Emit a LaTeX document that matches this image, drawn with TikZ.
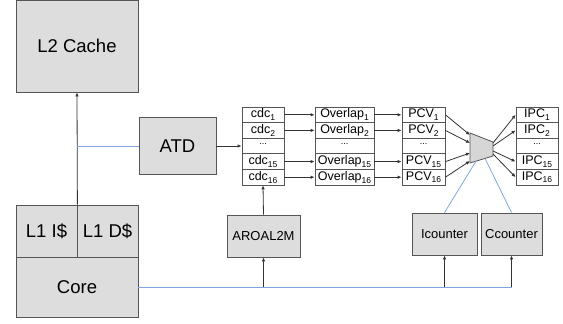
\documentclass[tikz,border=0pt]{standalone}
\usepackage{fontspec}
\setmainfont{Liberation Sans}
\usetikzlibrary{positioning, arrows.meta, calc}

\definecolor{boxgray}{HTML}{DDDDDD}
\definecolor{muxgray}{HTML}{D6D6D6}
\definecolor{edgegray}{HTML}{555555}
\definecolor{linkblue}{HTML}{80A8DE}
\newcommand{\lowidx}[1]{\raisebox{-0.22em}{\fontsize{8.5}{9}\selectfont #1}}

\begin{document}
\begin{tikzpicture}[x=1pt, y=-1pt]
	\tikzset{
		block/.style={draw=edgegray, fill=boxgray, inner sep=0pt, line width=0.8pt, font=\fontsize{18.5}{20}\selectfont},
		smallblock/.style={block, font=\fontsize{13}{15}\selectfont},
		cell/.style={draw=edgegray, fill=white, inner sep=0pt, line width=0.8pt, minimum height=15.6pt, font=\fontsize{12.5}{14}\selectfont},
		arr/.style={draw=black!80, line width=0.8pt, -{Latex[length=4pt,width=3.5pt]}},
		bus/.style={draw=linkblue, line width=0.8pt}
	}
	\useasboundingbox (0,0) rectangle (563,324);
	
	% processor side
	\node[block, minimum width=122pt, minimum height=92pt] (L2) at (77,46) {L2 Cache};
	\node[block, minimum width=61pt, minimum height=52pt] (L1I) at (46.5,231) {L1 I\$};
	\node[block, minimum width=61pt, minimum height=52pt] (L1D) at (107.5,231) {L1 D\$};
	\node[block, minimum width=122pt, minimum height=60pt] (Core) at (77,287) {Core};
	\node[block, minimum width=77pt, minimum height=57pt] (ATD) at (177.5,146) {ATD};
	
	% counters
	\node[smallblock, minimum width=73pt, minimum height=42pt] (AROAL2M) at (263.5,236) {AROAL2M};
	\node[smallblock, minimum width=65pt, minimum height=42pt] (Icounter) at (444.5,234) {Icounter};
	\node[smallblock, minimum width=61pt, minimum height=42pt] (Ccounter) at (511.5,234) {Ccounter};
	
	% tables
	\foreach \r/\s in {1/1,2/2,4/15,5/16} {
		\node[cell, minimum width=42pt] (cdc\r) at (263,99.2+15.6*\r) {cdc\lowidx{\s}};
		\node[cell, minimum width=59pt] (ovl\r) at (344.5,99.2+15.6*\r) {Overlap\lowidx{\s}};
		\node[cell, minimum width=43pt] (pcv\r) at (423.5,99.2+15.6*\r) {PCV\lowidx{\s}};
		\node[cell, minimum width=42pt] (ipc\r) at (537,99.2+15.6*\r) {IPC\lowidx{\s}};
		\draw[arr] (cdc\r) -- (ovl\r);
		\draw[arr] (ovl\r) -- (pcv\r);
	}
	\foreach \col/\x/\w in {cdc/263/42, ovl/344.5/59, pcv/423.5/43, ipc/537/42}
		\node[cell, minimum width=\w pt] (\col3) at (\x,146) {\raisebox{0.3em}{\fontsize{9}{9}\selectfont ...}};
	
	% selector
	\draw[draw=edgegray, fill=muxgray, line width=0.8pt] (470,133) -- (493,142) -- (493,156) -- (470,163) -- cycle;
	\coordinate (mi1) at (470,135);
	\coordinate (mi2) at (470,143);
	\coordinate (mi4) at (470,153);
	\coordinate (mi5) at (470,161);
	\coordinate (mo1) at (493,143);
	\coordinate (mo2) at (493,146);
	\coordinate (mo4) at (493,151);
	\coordinate (mo5) at (493,154);
	\coordinate (mb1) at (476,161.2);
	\coordinate (mb2) at (485,158.4);
	\foreach \r in {1,2,4,5} {
		\draw[arr] (pcv\r.east) -- (mi\r);
		\draw[arr] (mo\r) -- (ipc\r.west);
	}
	
	% links
	\draw[arr] (L1I.north east) -- (L2.south);
	\draw[bus] (L2.south |- ATD.west) -- (ATD.west);
	\draw[arr] (ATD.east) -- (cdc3.west);
	\draw[arr] (AROAL2M.north) -- (cdc5.south);
	\draw[bus] (Core.east) -- (Core.east -| Ccounter.south);
	\draw[arr] (Core.east -| AROAL2M.south) -- (AROAL2M.south);
	\draw[arr] (Core.east -| Icounter.south) -- (Icounter.south);
	\draw[arr] (Core.east -| Ccounter.south) -- (Ccounter.south);
	\draw[bus] (Icounter.north) -- (mb1);
	\draw[bus] (Ccounter.north) -- (mb2);
\end{tikzpicture}
\end{document}
